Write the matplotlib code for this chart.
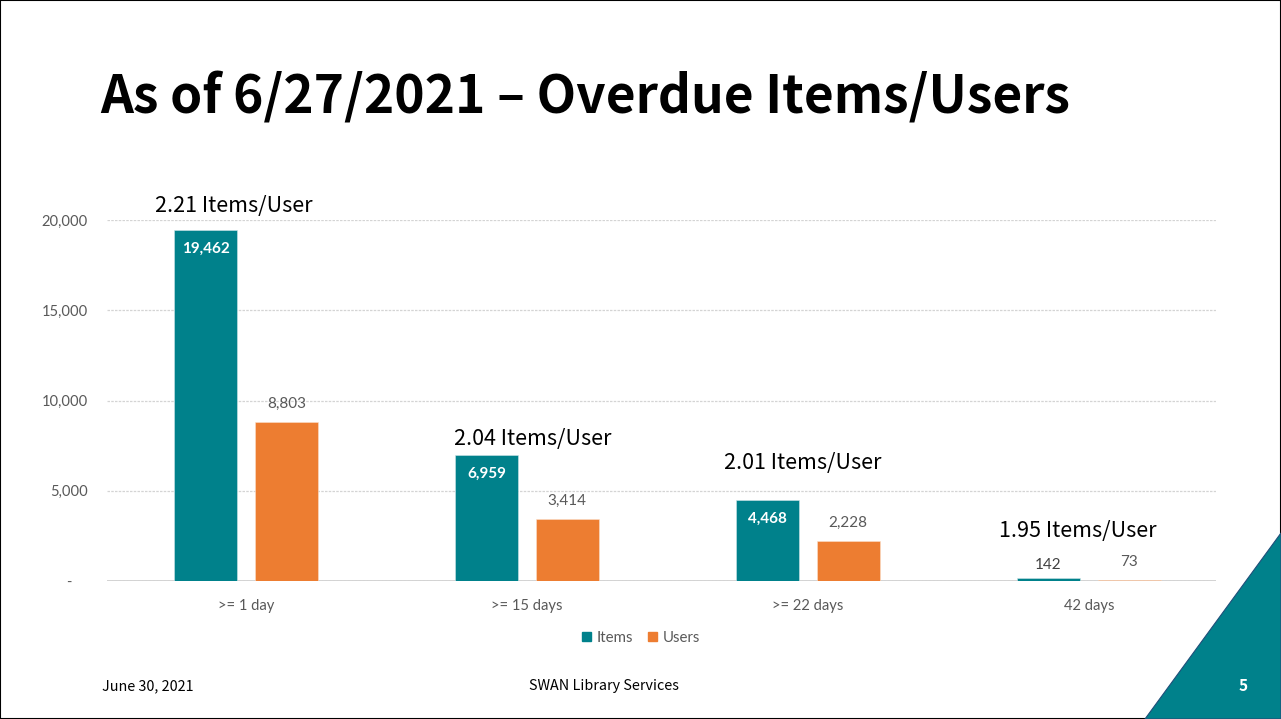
"""Overdue items and users by age bucket, slide-style bar chart."""

import matplotlib

matplotlib.use("Agg")
import matplotlib.pyplot as plt  # noqa: E402
import numpy as np  # noqa: E402
from matplotlib.patches import Patch, Polygon, Rectangle  # noqa: E402

categories = [">= 1 day", ">= 15 days", ">= 22 days", "42 days"]
items = [19462, 6959, 4468, 142]
users = [8803, 3414, 2228, 73]
y_ticks = [0, 5000, 10000, 15000, 20000]
y_tick_labels = ["-    ", "5,000", "10,000", "15,000", "20,000"]

# where each "Items/User" caption sits (data coords)
ratio_pos = [(-0.045, 20775), (1.022, 7870), (1.983, 6540), (2.962, 2770)]

TEAL = "#00818b"
ORANGE = "#ed7d31"
GRAY = "#595959"
HEAD_FONT = "Noto Sans CJK JP"
CHART_FONT = "Lato"

fig = plt.figure(figsize=(12.81, 7.19), dpi=100)
W, H = 1281, 719


def px(x, y):
    return x / W, 1 - y / H


# slide frame and corner accent
fig.patches.append(Rectangle((0, 0), 1, 1, transform=fig.transFigure,
                             fill=False, edgecolor="black", linewidth=1.5))
fig.patches.append(Polygon([px(1145, 719), px(1281, 533), px(1281, 719)],
                           closed=True, transform=fig.transFigure,
                           facecolor=TEAL, edgecolor="#1f4e79", linewidth=0.8))

fig.text(*px(100, 98), "As of 6/27/2021 \u2013 Overdue Items/Users",
         family=HEAD_FONT, weight="bold", fontsize=37, va="center", ha="left")

left, right = px(107, 0)[0], px(1216, 0)[0]
bottom, top = px(0, 581)[1], px(0, 220)[1]
ax = fig.add_axes([left, bottom, right - left, top - bottom])

x = np.arange(len(categories))
off, bw = 0.1435, 0.224
b1 = ax.bar(x - off, items, bw, color=TEAL, edgecolor="#cfe6e8", linewidth=0.4,
            label="Items", zorder=3)
b2 = ax.bar(x + off, users, bw, color=ORANGE, edgecolor="#fbe0cc", linewidth=0.4,
            label="Users", zorder=3)

ax.set_xlim(-0.495, 3.453)
ax.set_ylim(0, 20000)
ax.set_yticks(y_ticks)
ax.set_yticklabels(y_tick_labels)
ax.set_xticks(x)
ax.set_xticklabels(categories)
ax.tick_params(length=0, labelsize=10.6, labelcolor=GRAY)
ax.tick_params(axis="y", pad=14)
ax.tick_params(axis="x", pad=13)
for lab in ax.get_xticklabels() + ax.get_yticklabels():
    lab.set_family(CHART_FONT)
for s in ax.spines.values():
    s.set_visible(False)
ax.grid(axis="y", color="#d4d4d4", linestyle=(0, (2, 1)), linewidth=0.9, zorder=0)
ax.axhline(0, color="#d0d0d0", linewidth=1.3, zorder=2)

for rect, v in zip(b1, items):
    cx = rect.get_x() + rect.get_width() / 2
    if v > 1000:
        ax.annotate(f"{v:,}", (cx, v), xytext=(0, -13.5), textcoords="offset points",
                    ha="center", va="center", color="white", fontsize=11,
                    weight="bold", family=CHART_FONT)
    else:
        ax.annotate(f"{v:,}", (cx, v), xytext=(0, 10), textcoords="offset points",
                    ha="center", va="center", color="#404040", fontsize=11,
                    family=CHART_FONT)
for rect, v in zip(b2, users):
    cx = rect.get_x() + rect.get_width() / 2
    ax.annotate(f"{v:,}", (cx, v), xytext=(0, 13), textcoords="offset points",
                ha="center", va="center", color=GRAY, fontsize=11, family=CHART_FONT)

for (tx, ty), it, us in zip(ratio_pos, items, users):
    ax.text(tx, ty, f"{it / us:.2f} Items/User", ha="center", va="center",
            fontsize=15.5, family=HEAD_FONT, color="black")

handles = [Patch(color=TEAL, label="Items"), Patch(color=ORANGE, label="Users")]
leg = fig.legend(handles=handles, loc="center", bbox_to_anchor=px(641, 638), ncol=2,
                 frameon=False, handlelength=0.6, handleheight=0.6, handletextpad=0.4,
                 columnspacing=1.0, prop={"family": CHART_FONT, "size": 10.8})
for t in leg.get_texts():
    t.set_color(GRAY)

fig.text(*px(102, 686), "June 30, 2021", family=HEAD_FONT, fontsize=10.3,
         ha="left", va="center")
fig.text(*px(604, 686), "SWAN Library Services", family=HEAD_FONT, fontsize=10.3,
         ha="center", va="center")
fig.text(*px(1243, 686), "5", family=HEAD_FONT, fontsize=11, weight="bold",
         color="white", ha="center", va="center")

fig.savefig("out.png", dpi=100)
